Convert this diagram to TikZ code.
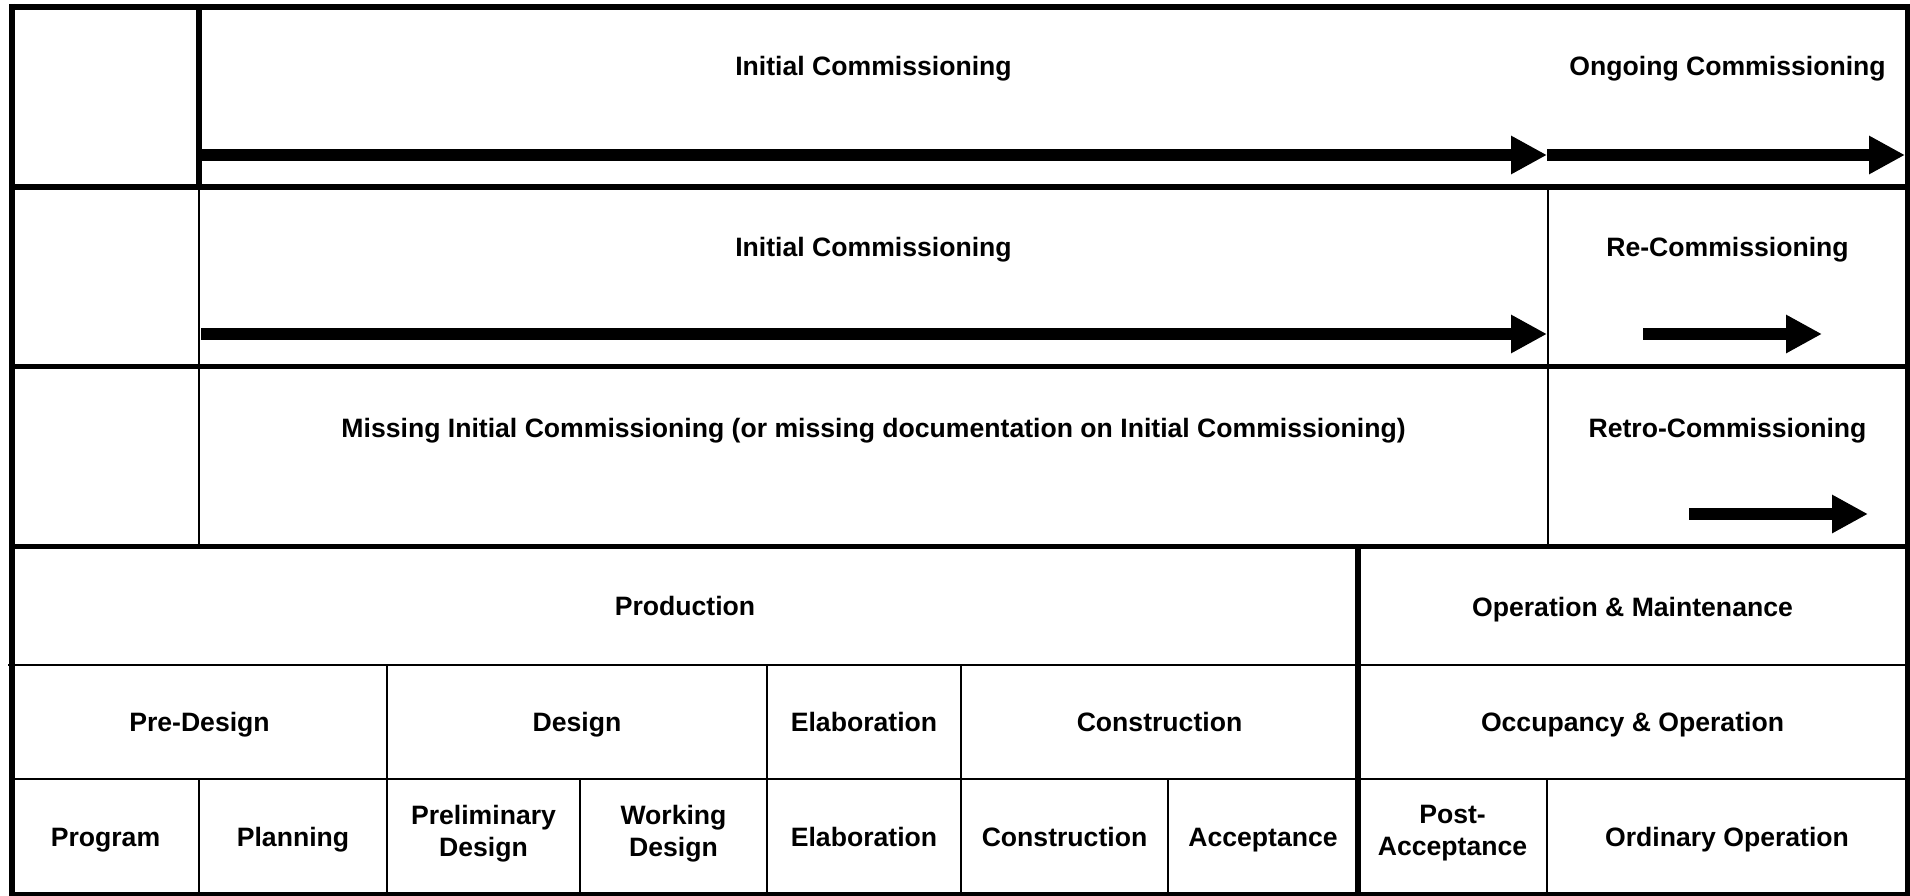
\documentclass[tikz,border=0pt]{standalone}
\usepackage{fontspec}
\setmainfont{Liberation Sans}
\usetikzlibrary{arrows.meta}
\begin{document}
\begin{tikzpicture}[x=1pt,y=-1pt,
  rulethick/.style={line width=5.5pt},
  rulethin/.style={line width=2pt},
  lbl/.style={font=\bfseries\fontsize{26.6}{32}\selectfont, inner sep=0pt, text height=19pt, text depth=0pt, anchor=center},
  mlbl/.style={font=\bfseries\fontsize{26.6}{32}\selectfont, inner sep=0pt, align=center, anchor=center, yshift=3pt},
  bigarrow/.style={line width=12pt, -{Triangle[length=36pt,width=36pt]}}]
\useasboundingbox (0,0) rectangle (1910,896);
% outer frame and thick rules
\draw[line width=6pt] (9,7) -- (1910,7);
\draw[line width=6pt] (12,4) -- (12,896);
\draw[line width=5pt] (1907.5,4) -- (1907.5,896);
\draw[line width=4pt] (9,894) -- (1910,894);
\draw[line width=6pt] (12,187) -- (1907,187);
\draw[rulethick] (12,366.5) -- (1907,366.5);
\draw[rulethick] (12,546.5) -- (1907,546.5);
\draw[line width=6pt] (199,7) -- (199,187);
\draw[rulethick] (1358,546) -- (1358,894);
% thin rules
\draw[rulethin] (199,187) -- (199,546);
\draw[rulethin] (1548,187) -- (1548,546);
\draw[rulethin] (8,665) -- (1907,665);
\draw[rulethin] (12,779) -- (1907,779);
\foreach \x in {387,767,961} \draw[rulethin] (\x,665) -- (\x,894);
\foreach \x in {199,580,1168,1547} \draw[rulethin] (\x,779) -- (\x,894);
% arrows
\coordinate (a1s) at (202,155);
\coordinate (a1e) at (1547,155);
\coordinate (a2e) at (1905,155);
\coordinate (b1s) at (201,334);
\coordinate (b1e) at (1547,334);
\coordinate (b2s) at (1643,334);
\coordinate (b2e) at (1822,334);
\coordinate (c1s) at (1689,514);
\coordinate (c1e) at (1868,514);
\draw[bigarrow] (a1s) -- (a1e);
\draw[bigarrow] (a1e) -- (a2e);
\draw[bigarrow] (b1s) -- (b1e);
\draw[bigarrow] (b2s) -- (b2e);
\draw[bigarrow] (c1s) -- (c1e);
% labels
\node[lbl] (ic1) at (873.5,66) {Initial Commissioning};
\node[lbl] (oc) at (1727.5,66) {Ongoing Commissioning};
\node[lbl] (ic2) at (873.5,247) {Initial Commissioning};
\node[lbl] (rec) at (1727.5,247) {Re-Commissioning};
\node[lbl] (mic) at (873.5,428) {Missing Initial Commissioning (or missing documentation on Initial Commissioning)};
\node[lbl] (retro) at (1727.5,428) {Retro-Commissioning};
\node[lbl] (prod) at (685,606) {Production};
\node[lbl] (om) at (1632.5,607) {Operation \& Maintenance};
\node[lbl] (pred) at (199.5,722) {Pre-Design};
\node[lbl] (des) at (577,722) {Design};
\node[lbl] (elab1) at (864,722) {Elaboration};
\node[lbl] (cons1) at (1159.5,722) {Construction};
\node[lbl] (occ) at (1632.5,722) {Occupancy \& Operation};
\node[lbl] (prog) at (105.5,836.5) {Program};
\node[lbl] (plan) at (293,836.5) {Planning};
\node[mlbl] (prel) at (483.5,836.5) {Preliminary\\Design};
\node[mlbl] (work) at (673.5,836.5) {Working\\Design};
\node[lbl] (elab2) at (864,836.5) {Elaboration};
\node[lbl] (cons2) at (1064.5,836.5) {Construction};
\node[lbl] (acc) at (1263,836.5) {Acceptance};
\node[mlbl] (post) at (1452.5,836.5) {Post-\\Acceptance};
\node[lbl] (ord) at (1727,836.5) {Ordinary Operation};
\end{tikzpicture}
\end{document}
